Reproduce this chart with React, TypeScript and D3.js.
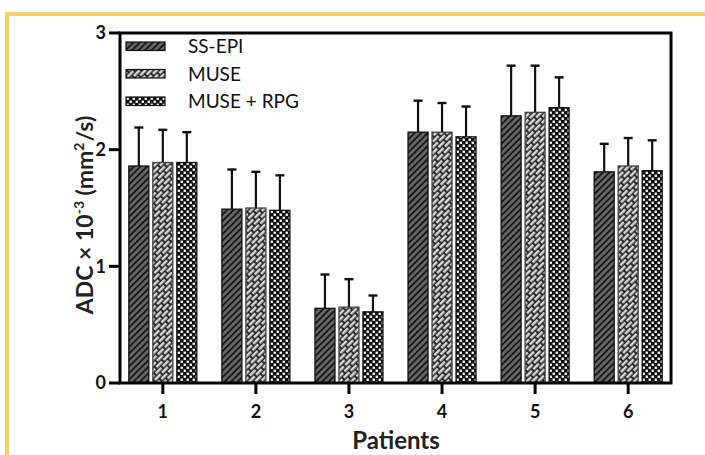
import React from "react";
import * as d3 from "d3";

const patients = ["1", "2", "3", "4", "5", "6"];
const seriesNames = ["SS-EPI", "MUSE", "MUSE + RPG"];
const ssEpi = [1.86, 1.49, 0.64, 2.15, 2.29, 1.81];
const ssEpiErr = [2.19, 1.83, 0.93, 2.42, 2.72, 2.05];
const muse = [1.89, 1.5, 0.65, 2.15, 2.32, 1.86];
const museErr = [2.17, 1.81, 0.89, 2.4, 2.72, 2.1];
const museRpg = [1.89, 1.48, 0.61, 2.11, 2.36, 1.82];
const museRpgErr = [2.15, 1.78, 0.75, 2.37, 2.62, 2.08];
const yTicks = [0, 1, 2, 3];

const values = [ssEpi, muse, museRpg];
const errTops = [ssEpiErr, museErr, museRpgErr];
const patternIds = ["pSS", "pMUSE", "pRPG"];

const W = 705;
const H = 455;
const left = 120;
const right = 671;
const top = 33;
const bottom = 383;
const font = "Lato, 'Open Sans', sans-serif";

export default function App() {
  const x = d3.scalePoint<string>().domain(patients).range([left, right]).padding(0.46);
  const inner = d3.scaleBand<string>().domain(seriesNames).range([-34, 34]).paddingInner(0.167).paddingOuter(0);
  const y = d3.scaleLinear().domain([0, 3]).range([bottom, top]);
  const bw = inner.bandwidth();

  return (
    <svg width={W} height={H} style={{ position: "absolute", left: 0, top: 0, background: "#fff" }}>
      <defs>
        <pattern id="pSS" width={4.6} height={4.6} patternUnits="userSpaceOnUse" patternTransform="rotate(45)">
          <rect width={4.6} height={4.6} fill="#666" />
          <rect x={0} y={0} width={1.7} height={4.6} fill="#111" />
        </pattern>
        <pattern id="pMUSE" width={10} height={8} patternUnits="userSpaceOnUse" patternTransform="rotate(-45)">
          <rect width={10} height={8} fill="#1a1a1a" />
          <rect x={0.9} y={0.9} width={8.2} height={2.6} fill="#d8d8d8" />
          <rect x={-4.1} y={4.9} width={8.2} height={2.6} fill="#d8d8d8" />
          <rect x={5.9} y={4.9} width={8.2} height={2.6} fill="#d8d8d8" />
        </pattern>
        <pattern id="pRPG" width={6} height={6} patternUnits="userSpaceOnUse">
          <rect width={6} height={6} fill="#111" />
          <rect x={0.6} y={0.6} width={2.3} height={2.3} fill="#fff" />
          <rect x={3.6} y={3.6} width={2.3} height={2.3} fill="#fff" />
        </pattern>
      </defs>

      {/* yellow frame */}
      <path d={`M7,${H} L7,14 L${W},14`} fill="none" stroke="#f8cf6a" strokeWidth={4} />

      {/* bars */}
      {patients.map((p, i) => (
        <g key={p}>
          {seriesNames.map((s, k) => {
            const cx = (x(p) as number) + (inner(s) as number);
            const v = values[k][i];
            const e = errTops[k][i];
            const mid = cx + bw / 2;
            return (
              <g key={s}>
                <line x1={mid} x2={mid} y1={y(v)} y2={y(e)} stroke="#111" strokeWidth={2.2} />
                <line x1={mid - 4.5} x2={mid + 4.5} y1={y(e)} y2={y(e)} stroke="#111" strokeWidth={2.4} />
                <rect x={cx} y={y(v)} width={bw} height={y(0) - y(v)} fill={`url(#${patternIds[k]})`} stroke={k === 1 ? "#444" : "#111"} strokeWidth={1.3} />
              </g>
            );
          })}
        </g>
      ))}

      {/* frame / axes */}
      <rect x={left} y={top} width={right - left} height={bottom - top} fill="none" stroke="#000" strokeWidth={3} />

      {/* y ticks */}
      {yTicks.map((t) => (
        <g key={t}>
          <line x1={left - 11} x2={left} y1={y(t)} y2={y(t)} stroke="#000" strokeWidth={3} />
          <text x={left - 14} y={y(t)} dy="0.36em" textAnchor="end" fontFamily={font} fontWeight={700} fontSize={18} fill="#111">
            {t}
          </text>
        </g>
      ))}

      {/* x ticks */}
      {patients.map((p) => (
        <g key={p}>
          <line x1={x(p) as number} x2={x(p) as number} y1={bottom} y2={bottom + 11} stroke="#000" strokeWidth={3} />
          <text x={x(p) as number} y={418} textAnchor="middle" fontFamily={font} fontWeight={700} fontSize={18} fill="#111">
            {p}
          </text>
        </g>
      ))}

      {/* axis titles */}
      <text x={396} y={449} textAnchor="middle" fontFamily={font} fontWeight={700} fontSize={24} fill="#222">
        Patients
      </text>
      <text transform={`translate(93,215) rotate(-90)`} textAnchor="middle" fontFamily={font} fontWeight={700} fontSize={23} fill="#222">
        <tspan>ADC × 10</tspan>
        <tspan dy={-9} fontSize={14}>-3</tspan>
        <tspan dy={9}> (mm</tspan>
        <tspan dy={-9} fontSize={14}>2</tspan>
        <tspan dy={9} dx={1}>/s)</tspan>
      </text>

      {/* legend */}
      {seriesNames.map((s, k) => (
        <g key={s} transform={`translate(126,${42 + k * 27.5})`}>
          <rect x={0} y={0} width={39} height={8.5} fill={`url(#${patternIds[k]})`} stroke="#111" strokeWidth={1.2} />
          <text x={62} y={4.5} dy="0.36em" fontFamily={font} fontSize={19} fill="#111">
            {s}
          </text>
        </g>
      ))}
    </svg>
  );
}
